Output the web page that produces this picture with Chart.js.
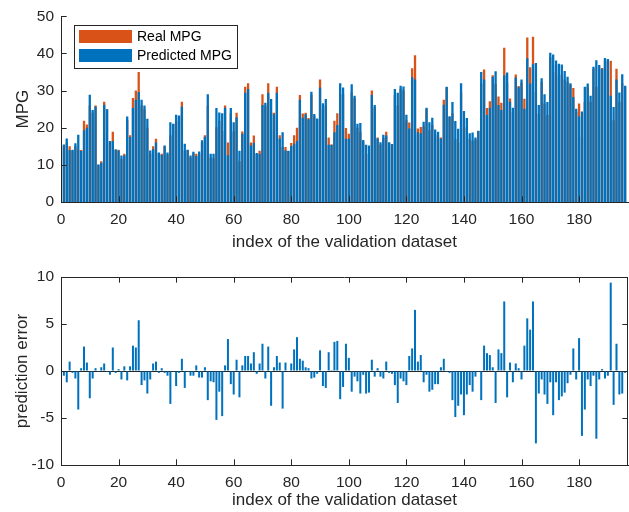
<!DOCTYPE html>
<html>
<head>
<meta charset="utf-8">
<script src="https://cdn.jsdelivr.net/npm/chart.js@4.4.1/dist/chart.umd.min.js"></script>
<style>
  html, body { margin: 0; padding: 0; background: #fff; }
  .panel { position: relative; width: 629px; height: 256px; }
</style>
</head>
<body>
<div class="panel"><canvas id="mpgChart"></canvas></div>
<div class="panel"><canvas id="errChart"></canvas></div>
<script>
// values (validation samples 1..196)
const predictedMpg = [
  15.5, 17.1, 14.0, 14.1, 15.8, 18.1, 13.7, 19.3, 20.0, 28.9,
  24.8, 25.7, 10.1, 10.6, 26.2, 25.0, 16.4, 16.4, 14.2, 13.9,
  12.5, 12.5, 23.0, 17.5, 25.3, 27.5, 29.6, 27.5, 26.0, 22.4,
  13.9, 14.2, 16.0, 13.3, 12.7, 15.2, 13.3, 21.5, 21.1, 23.5,
  23.3, 25.7, 15.7, 14.1, 12.5, 13.5, 12.4, 13.6, 16.6, 17.6,
  29.0, 13.0, 13.0, 25.3, 24.1, 23.9, 25.4, 12.6, 25.3, 21.5,
  22.8, 13.8, 18.4, 29.4, 30.4, 15.2, 15.9, 13.2, 13.0, 26.1,
  26.7, 29.4, 27.7, 23.6, 29.4, 17.1, 18.8, 13.9, 13.8, 15.1,
  15.7, 16.4, 27.5, 22.7, 23.6, 22.3, 29.7, 23.7, 22.5, 30.8,
  26.6, 27.7, 15.4, 15.4, 18.8, 20.7, 32.0, 30.8, 17.0, 17.0,
  31.7, 28.6, 21.1, 21.3, 16.7, 15.4, 15.2, 28.8, 26.1, 17.1,
  16.1, 18.1, 17.9, 16.1, 15.6, 30.4, 29.4, 31.3, 31.1, 23.5,
  19.8, 33.6, 33.0, 18.8, 18.5, 21.6, 25.4, 21.5, 22.7, 19.5,
  18.9, 17.0, 26.2, 31.0, 23.1, 26.9, 21.8, 19.7, 32.0, 24.5,
  22.6, 18.5, 18.7, 17.4, 19.2, 35.0, 33.0, 23.4, 25.4, 33.7,
  35.2, 26.1, 24.8, 34.1, 34.9, 27.0, 25.4, 33.5, 30.9, 33.0,
  25.1, 38.7, 31.9, 37.1, 37.4, 26.1, 33.3, 29.0, 26.9, 40.2,
  39.7, 38.1, 37.2, 37.0, 35.3, 33.7, 32.0, 28.3, 25.1, 23.0,
  24.4, 31.0, 31.9, 28.6, 36.4, 38.2, 36.9, 35.9, 38.8, 38.5,
  28.6, 25.6, 33.0, 29.5, 34.4, 31.3
];

const realMpg = [
  15.0, 15.9, 15.0, 13.9, 15.0, 14.0, 14.0, 21.9, 20.9, 26.0,
  24.0, 26.0, 10.0, 11.0, 27.0, 24.9, 16.0, 18.9, 14.0, 14.1,
  11.6, 13.0, 22.0, 18.0, 28.0, 30.0, 35.0, 26.0, 25.0, 20.0,
  13.0, 15.0, 17.0, 13.1, 13.0, 15.0, 12.8, 18.0, 21.0, 21.9,
  23.1, 27.0, 13.9, 14.0, 12.0, 13.0, 13.0, 12.9, 15.9, 18.0,
  25.9, 11.9, 11.8, 20.1, 21.9, 19.1, 26.0, 16.0, 23.9, 19.0,
  24.0, 11.0, 19.0, 31.0, 32.0, 16.0, 17.9, 12.9, 13.8, 29.0,
  25.9, 32.0, 24.0, 24.0, 31.0, 18.0, 14.8, 14.8, 13.7, 15.9,
  18.0, 20.0, 28.8, 23.8, 24.0, 22.6, 28.9, 23.0, 22.2, 33.0,
  25.0, 25.9, 17.4, 15.5, 21.9, 23.9, 29.0, 29.1, 19.9, 18.4,
  29.5, 28.0, 20.0, 18.9, 16.3, 13.0, 12.9, 30.0, 25.5, 17.4,
  15.5, 17.3, 18.9, 15.9, 15.3, 28.9, 26.0, 30.5, 30.0, 22.0,
  21.4, 36.0, 39.5, 19.8, 20.2, 20.4, 25.0, 19.3, 20.7, 18.1,
  17.5, 17.4, 27.5, 30.9, 22.9, 23.8, 16.9, 16.0, 29.5, 19.8,
  20.1, 17.0, 16.5, 16.8, 19.1, 31.9, 35.7, 25.3, 27.1, 34.1,
  31.8, 28.4, 26.7, 41.5, 32.1, 27.9, 24.2, 34.3, 31.2, 32.1,
  27.8, 44.3, 36.3, 44.5, 29.7, 23.7, 32.4, 26.5, 23.4, 39.0,
  35.0, 36.9, 34.1, 34.3, 33.0, 32.4, 31.6, 30.7, 24.2, 26.5,
  17.5, 26.9, 31.0, 27.0, 35.9, 31.0, 36.0, 36.1, 38.0, 38.0,
  38.0, 22.0, 35.9, 27.0, 32.0, 31.1
];

const predictionError = [
  -0.5, -1.2, 1.0, -0.2, -0.8, -4.1, 0.3, 2.6, 0.9, -2.9,
  -0.8, 0.3, -0.1, 0.4, 0.8, -0.1, -0.4, 2.5, -0.2, 0.2,
  -0.9, 0.5, -1.0, 0.5, 2.7, 2.5, 5.4, -1.5, -1.0, -2.4,
  -0.9, 0.8, 1.0, -0.2, 0.3, -0.2, -0.5, -3.5, -0.1, -1.6,
  -0.2, 1.3, -1.8, -0.1, -0.5, -0.5, 0.6, -0.7, -0.7, 0.4,
  -3.1, -1.1, -1.2, -5.2, -2.2, -4.8, 0.6, 3.4, -1.4, -2.5,
  1.2, -2.8, 0.6, 1.6, 1.6, 0.8, 2.0, -0.3, 0.8, 2.9,
  -0.8, 2.6, -3.7, 0.4, 1.6, 0.9, -4.0, 0.9, -0.1, 0.8,
  2.3, 3.6, 1.3, 1.1, 0.4, 0.3, -0.8, -0.7, -0.3, 2.2,
  -1.6, -1.8, 2.0, 0.1, 3.1, 3.2, -3.0, -1.7, 2.9, 1.4,
  -2.2, -0.6, -1.1, -2.4, -0.4, -2.4, -2.3, 1.2, -0.6, 0.3,
  -0.6, -0.8, 1.0, -0.2, -0.3, -1.5, -3.4, -0.8, -1.1, -1.5,
  1.6, 2.4, 6.5, 1.0, 1.7, -1.2, -0.4, -2.2, -2.0, -1.4,
  -1.4, 0.4, 1.3, -0.1, -0.2, -3.1, -4.9, -3.7, -2.5, -4.7,
  -2.5, -1.5, -2.2, -0.6, -0.1, -3.1, 2.7, 1.9, 1.7, 0.4,
  -3.4, 2.3, 1.9, 7.4, -2.8, 0.9, -1.2, 0.8, 0.3, -0.9,
  2.7, 5.6, 4.4, 7.4, -7.7, -2.4, -0.9, -2.5, -3.5, -1.2,
  -4.7, -1.2, -3.1, -2.7, -2.3, -1.3, -0.4, 2.4, -0.9, 3.5,
  -6.9, -4.1, -0.9, -1.6, -0.5, -7.2, -0.9, 0.2, -0.8, -0.5,
  9.4, -3.6, 2.9, -2.5, -2.4, -0.2
];

const sampleIndex = predictedMpg.map((_, i) => i + 1);
const xTicks = [0, 20, 40, 60, 80, 100, 120, 140, 160, 180];
const mpgTicks = [0, 10, 20, 30, 40, 50];
const errTicks = [-10, -5, 0, 5, 10];

const ORANGE = 'rgb(217, 83, 25)';
const BLUE = 'rgb(0, 114, 189)';
const AXIS = '#262626';
const FONT = '"Liberation Sans", Arial, Helvetica, sans-serif';

Chart.defaults.font.family = FONT;
Chart.defaults.color = AXIS;

// matlab style ticks pointing into the axes
const inwardTicks = {
  id: 'inwardTicks',
  afterDatasetsDraw(chart, args, opts) {
    const { ctx, chartArea: a, scales: { x, y } } = chart;
    const len = 5.7;
    ctx.save();
    ctx.strokeStyle = AXIS;
    ctx.lineWidth = 1;
    ctx.beginPath();
    x.ticks.forEach(t => {
      const px = Math.round(x.getPixelForValue(t.value)) + 0.5;
      ctx.moveTo(px, a.bottom); ctx.lineTo(px, a.bottom - len);
      if (opts.box) { ctx.moveTo(px, a.top); ctx.lineTo(px, a.top + len); }
    });
    y.ticks.forEach(t => {
      const py = Math.round(y.getPixelForValue(t.value)) + 0.5;
      ctx.moveTo(a.left, py); ctx.lineTo(a.left + len, py);
      if (opts.box) { ctx.moveTo(a.right, py); ctx.lineTo(a.right - len, py); }
    });
    if (opts.box) {
      ctx.moveTo(a.left, Math.round(a.top) + 0.5); ctx.lineTo(a.right, Math.round(a.top) + 0.5);
      ctx.moveTo(Math.round(a.right) - 0.5, a.top); ctx.lineTo(Math.round(a.right) - 0.5, a.bottom);
    }
    ctx.stroke();
    ctx.restore();
  }
};

// boxed legend in the upper left of the axes
const boxLegend = {
  id: 'boxLegend',
  afterDraw(chart) {
    const ctx = chart.ctx;
    const x0 = 74, y0 = 25, w = 163, h = 43;
    ctx.save();
    ctx.fillStyle = '#fff';
    ctx.fillRect(x0, y0, w, h);
    ctx.strokeStyle = AXIS;
    ctx.lineWidth = 1;
    ctx.strokeRect(x0 + 0.5, y0 + 0.5, w, h);
    ctx.font = '14px ' + FONT;
    ctx.textBaseline = 'middle';
    chart.data.datasets.forEach((ds, i) => {
      const ry = y0 + 5 + i * 19;
      ctx.fillStyle = ds.backgroundColor;
      ctx.fillRect(x0 + 5, ry, 53, 13);
      ctx.fillStyle = '#000';
      ctx.fillText(ds.label, x0 + 63, ry + 7);
    });
    ctx.restore();
  }
};

function xScale(height, pad) {
  return {
    type: 'linear',
    min: 0,
    max: 197,
    offset: false,
    afterBuildTicks: s => { s.ticks = xTicks.map(v => ({ value: v })); },
    afterFit: s => { s.height = height; },
    grid: { display: false, drawTicks: false },
    border: { display: true, color: AXIS, width: 1 },
    ticks: { padding: 8, maxRotation: 0, autoSkip: false, font: { size: 15.5 } },
    title: { display: true, text: 'index of the validation dataset', font: { size: 17 }, padding: { top: 0, bottom: pad } }
  };
}

new Chart(document.getElementById('mpgChart'), {
  type: 'bar',
  data: {
    labels: sampleIndex,
    datasets: [
      { label: 'Real MPG', data: realMpg, backgroundColor: ORANGE, order: 1 },
      { label: 'Predicted MPG', data: predictedMpg, backgroundColor: BLUE, order: 0 }
    ]
  },
  options: {
    responsive: true,
    maintainAspectRatio: false,
    animation: false,
    datasets: { bar: { grouped: false, barPercentage: 0.8, categoryPercentage: 1.0 } },
    layout: { padding: { top: 14.5, right: 1, left: 0, bottom: 0 } },
    scales: {
      x: xScale(54, 3.8),
      y: {
        min: 0,
        max: 50,
        afterBuildTicks: s => { s.ticks = mpgTicks.map(v => ({ value: v })); },
        afterFit: s => { s.width = 61; },
        grid: { display: false, drawTicks: false },
        border: { display: true, color: AXIS, width: 1 },
        ticks: { padding: 7, font: { size: 15.5 } },
        title: { display: true, text: 'MPG', font: { size: 17 }, padding: { top: 12.8, bottom: 0 } }
      }
    },
    plugins: {
      legend: { display: false },
      tooltip: { enabled: false },
      inwardTicks: { box: false }
    }
  },
  plugins: [inwardTicks, boxLegend]
});

new Chart(document.getElementById('errChart'), {
  type: 'bar',
  data: {
    labels: sampleIndex,
    datasets: [
      { label: 'prediction error', data: predictionError, backgroundColor: BLUE }
    ]
  },
  options: {
    responsive: true,
    maintainAspectRatio: false,
    animation: false,
    datasets: { bar: { barPercentage: 0.7, categoryPercentage: 1.0 } },
    layout: { padding: { top: 21, right: 1, left: 0, bottom: 0 } },
    scales: {
      x: xScale(47, 1.8),
      y: {
        min: -10,
        max: 10,
        afterBuildTicks: s => { s.ticks = errTicks.map(v => ({ value: v })); },
        afterFit: s => { s.width = 61; },
        grid: {
          display: true,
          drawTicks: false,
          color: c => (c.tick && c.tick.value === 0 ? AXIS : 'rgba(0,0,0,0)')
        },
        border: { display: true, color: AXIS, width: 1 },
        ticks: { padding: 7, font: { size: 15.5 } },
        title: { display: true, text: 'prediction error', font: { size: 17 }, padding: { top: 12, bottom: 0 } }
      }
    },
    plugins: {
      legend: { display: false },
      tooltip: { enabled: false },
      inwardTicks: { box: true }
    }
  },
  plugins: [inwardTicks]
});
</script>
</body>
</html>
